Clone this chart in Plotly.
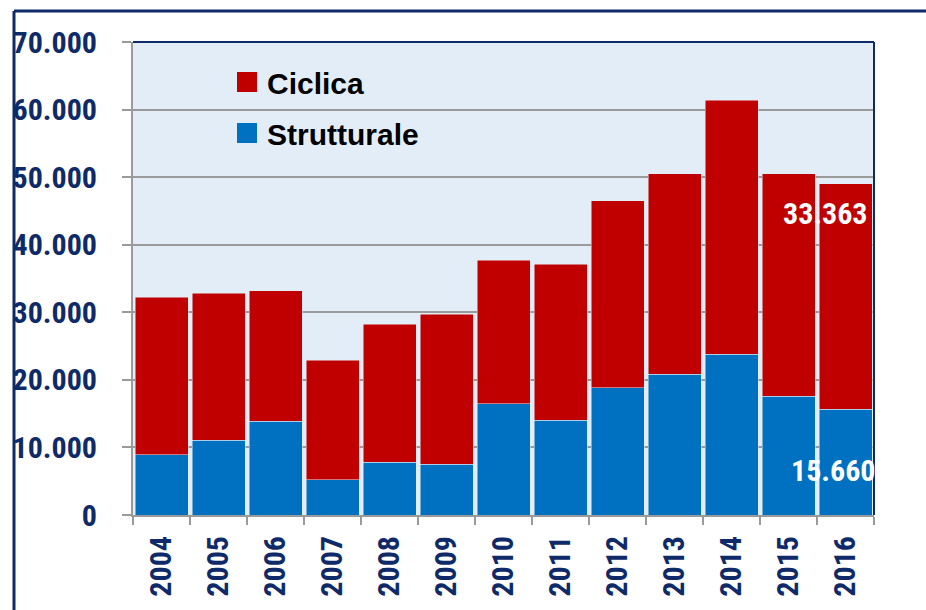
import plotly.graph_objects as go

years = ["2004", "2005", "2006", "2007", "2008", "2009", "2010",
         "2011", "2012", "2013", "2014", "2015", "2016"]
strutturale = [8900, 11100, 13900, 5200, 7800, 7500, 16500,
               14000, 18800, 20800, 23800, 17600, 15660]
ciclica = [23300, 21700, 19300, 17700, 20400, 22200, 21200,
           23100, 27700, 29700, 37600, 32900, 33363]
series_names = ["Strutturale", "Ciclica"]
y_ticks = [0, 10000, 20000, 30000, 40000, 50000, 60000, 70000]

RED = "#c00000"
BLUE = "#0070c0"
NAVY = "#0f2a68"
GRID = "#9a9a9a"
BG = "#e3edf7"
NARROW = "Roboto Condensed, Liberation Sans, sans-serif"
WIDE = "Liberation Sans, Arial, sans-serif"


def fmt(v):
    return f"{v:,}".replace(",", ".")


xs = [int(y) for y in years]

fig = go.Figure()
fig.add_trace(go.Bar(x=xs, y=strutturale, name=series_names[0],
                     marker=dict(color=BLUE), showlegend=False))
fig.add_trace(go.Bar(x=xs, y=ciclica, name=series_names[1],
                     marker=dict(color=RED), showlegend=False))
# legend entries (larger square symbols); points lie below the visible range
fig.add_trace(go.Scatter(x=[xs[0]], y=[-20000], mode="markers", name=series_names[1],
                         legendgroup="c", hoverinfo="skip",
                         marker=dict(symbol="square", size=16, color=RED,
                                     line=dict(color=RED, width=4))))
fig.add_trace(go.Scatter(x=[xs[0]], y=[-20000], mode="markers", name=series_names[0],
                         legendgroup="s", hoverinfo="skip",
                         marker=dict(symbol="square", size=16, color=BLUE,
                                     line=dict(color=BLUE, width=4))))

# value labels for last year
fig.add_annotation(x=xs[-1], y=strutturale[-1] + ciclica[-1] * 0.87,
                   text=fmt(ciclica[-1]), showarrow=False, xshift=-20,
                   font=dict(family=NARROW, size=30, color="white", weight="bold"))
fig.add_annotation(x=xs[-1], y=strutturale[-1] * 0.42,
                   text=fmt(strutturale[-1]), showarrow=False, xshift=-12,
                   font=dict(family=NARROW, size=30, color="white", weight="bold"))

L, R, T, B = 133, 926 - 874, 42, 610 - 515
pw, ph = 926 - L - R, 610 - T - B

shapes = [
    dict(type="line", xref="paper", yref="paper", x0=0, x1=1, y0=1, y1=1,
         line=dict(color=NAVY, width=2)),
    dict(type="line", xref="paper", yref="paper", x0=1, x1=1, y0=0, y1=1,
         line=dict(color=NAVY, width=2)),
    dict(type="line", xref="paper", yref="paper",
         x0=(14 - L) / pw, x1=(930 - L) / pw, y0=1 + (T - 11) / ph, y1=1 + (T - 11) / ph,
         line=dict(color=NAVY, width=3)),
    dict(type="line", xref="paper", yref="paper",
         x0=(14 - L) / pw, x1=(14 - L) / pw, y0=1 + (T - 11) / ph, y1=-(620 - 515) / ph,
         line=dict(color=NAVY, width=3)),
]

fig.update_layout(
    width=926, height=610,
    margin=dict(l=L, r=R, t=T, b=B, pad=0, autoexpand=False),
    barmode="stack", bargap=0.07,
    plot_bgcolor=BG, paper_bgcolor="white",
    shapes=shapes,
    legend=dict(x=(227 - L) / pw, y=1 - (56 - T) / ph, xanchor="left", yanchor="top",
                bgcolor="rgba(0,0,0,0)", tracegroupgap=9,
                font=dict(family=WIDE, size=30, color="black", weight="bold")),
    xaxis=dict(range=[xs[0] - 0.5, xs[-1] + 0.5], tickvals=xs, ticktext=years,
               tickangle=-90, ticks="outside", ticklen=7, tickcolor="rgba(0,0,0,0)",
               minor=dict(tick0=xs[0] - 0.5, dtick=1, ticks="outside", ticklen=8,
                          tickwidth=2, tickcolor=GRID, showgrid=False),
               showline=True, linecolor=GRID, linewidth=2, showgrid=False,
               zeroline=False, automargin=False, fixedrange=True,
               tickfont=dict(family=NARROW, size=30, color=NAVY, weight="bold")),
    yaxis=dict(range=[0, 70000], tickvals=y_ticks, ticktext=[fmt(v) for v in y_ticks],
               ticks="outside", ticklen=9, tickwidth=2, tickcolor=GRID,
               showline=True, linecolor=GRID, linewidth=2, automargin=False,
               showgrid=True, gridcolor=GRID, gridwidth=2, zeroline=False,
               ticklabelstandoff=19, fixedrange=True,
               tickfont=dict(family=NARROW, size=30, color=NAVY, weight="bold")),
)

fig.write_html("out.html", config=dict(displayModeBar=False),
               post_script="document.body.style.margin='0';")
